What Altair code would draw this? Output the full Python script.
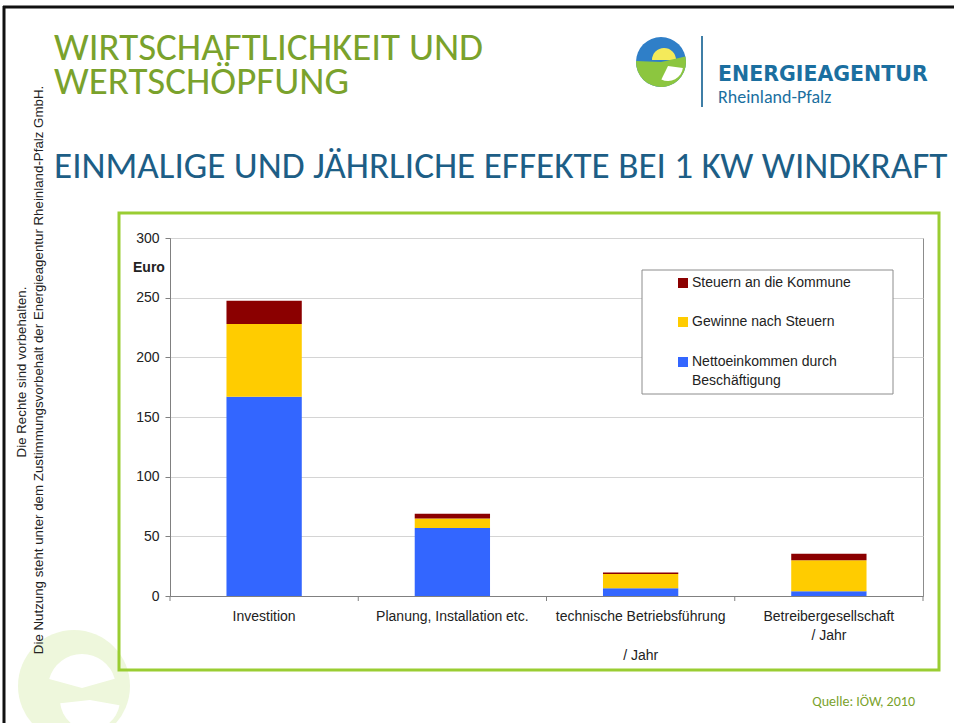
import altair as alt
import pandas as pd

# ---------------- data ----------------
categories = [
    "Investition",
    "Planung, Installation etc.",
    "technische Betriebsführung|\u200b|/ Jahr",
    "Betreibergesellschaft|/ Jahr",
]
series = ["Nettoeinkommen durch Beschäftigung", "Gewinne nach Steuern", "Steuern an die Kommune"]
netto = [167, 57, 6.5, 4]
gewinne = [61, 8, 12, 26]
steuern = [19.5, 4, 1.1, 5.5]
colors = ["#3366ff", "#ffcc00", "#8b0000"]
y_ticks = [0, 50, 100, 150, 200, 250, 300]

rows = []
for i, c in enumerate(categories):
    for k, (s, vals) in enumerate(zip(series, [netto, gewinne, steuern])):
        rows.append({"Kategorie": c, "Reihe": s, "Wert": vals[i], "ord": k})
df = pd.DataFrame(rows)

W, H = 753, 358
L, T = 170, 238  # plot origin on the page

ARIAL = "Liberation Sans"
CAL = "Carlito, Lato, Open Sans"

one = alt.Data(values=[{"a": 1}])

def px(x):
    return alt.value(x - L)

def py(y):
    return alt.value(y - T)

bars = alt.Chart(df).mark_bar(width=alt.RelativeBandSize(0.4)).encode(
    x=alt.X("Kategorie:N", sort=categories, scale=alt.Scale(paddingInner=0, paddingOuter=0),
            axis=alt.Axis(title=None, labelAngle=0, ticks=False, labelPadding=13,
                          labelExpr="split(datum.label, '|')", labelLineHeight=19.5,
                          labelFont=ARIAL, labelFontSize=14, labelColor="#222222",
                          labelLimit=400, labelOverlap=False, domainColor="#808080")),
    y=alt.Y("Wert:Q", stack="zero", scale=alt.Scale(domain=[0, 300], nice=False),
            axis=alt.Axis(title=None, values=y_ticks, grid=True, gridColor="#d4d4d4",
                          tickColor="#808080", tickSize=5, domainColor="#808080",
                          labelFont=ARIAL, labelFontSize=14, labelColor="#222222",
                          labelPadding=6)),
    color=alt.Color("Reihe:N", scale=alt.Scale(domain=series, range=colors), legend=None),
    order=alt.Order("ord:Q"),
)

# x tick marks at the band borders
xticks = alt.Chart(pd.DataFrame({"Kategorie": categories})).mark_rule(color="#808080").encode(
    x=alt.X("Kategorie:N", sort=categories, bandPosition=0),
    y=alt.value(H), y2=alt.value(H + 5),
)
xtick_end = alt.Chart(one).mark_rule(color="#808080").encode(
    x=alt.value(W), y=alt.value(H), y2=alt.value(H + 5))

euro = alt.Chart(one).mark_text(align="left", baseline="middle", font=ARIAL, fontSize=14,
                                fontWeight="bold", color="#222222").encode(
    x=px(133), y=py(268), text=alt.value("Euro"))

# legend
legend_box = alt.Chart(one).mark_rect(fill="white", stroke="#8c8c8c", strokeWidth=1).encode(
    x=px(642), x2=px(893), y=py(270), y2=py(394))
legend_layers = [legend_box]
leg_items = [
    (colors[2], ["Steuern an die Kommune"], 283),
    (colors[1], ["Gewinne nach Steuern"], 322),
    (colors[0], ["Nettoeinkommen durch", "Beschäftigung"], 362),
]
for col, lines, yy in leg_items:
    legend_layers.append(alt.Chart(one).mark_square(size=100, color=col, opacity=1).encode(
        x=px(683), y=py(yy)))
    for j, ln in enumerate(lines):
        legend_layers.append(alt.Chart(one).mark_text(align="left", baseline="middle", font=ARIAL,
                                                      fontSize=14, color="#222222").encode(
            x=px(692), y=py(yy + 19 * j), text=alt.value(ln)))

# slide decorations
deco = []
# faded logo bottom left
deco.append(alt.Chart(one).mark_arc(color="#eef7dc", theta=0, theta2=6.2832, outerRadius=56).encode(
    x=px(74), y=py(686)))
deco.append(alt.Chart(one).mark_arc(color="#ffffff", theta=4.98, theta2=7.58, outerRadius=34, innerRadius=0).encode(
    x=px(82), y=py(688)))
deco.append(alt.Chart(one).mark_arc(color="#ffffff", theta=1.75, theta2=4.6, outerRadius=30, innerRadius=0).encode(
    x=px(90), y=py(700)))
# green frame
deco.append(alt.Chart(one).mark_rect(fill=None, stroke="#9acd32", strokeWidth=3).encode(
    x=px(119), x2=px(939), y=py(213), y2=py(670)))
# black slide border
deco.append(alt.Chart(one).mark_rule(color="#111111", strokeWidth=3).encode(
    x=px(3), x2=px(954), y=py(7)))
deco.append(alt.Chart(one).mark_rule(color="#111111", strokeWidth=3).encode(
    x=px(4), y=py(6), y2=py(723)))
# vertical copyright text
deco.append(alt.Chart(one).mark_text(angle=270, align="center", baseline="middle", font=ARIAL,
                                     fontSize=13.3, color="#222222").encode(
    x=px(22), y=py(372), text=alt.value("Die Rechte sind vorbehalten.")))
deco.append(alt.Chart(one).mark_text(angle=270, align="center", baseline="middle", font=ARIAL,
                                     fontSize=13.3, color="#222222").encode(
    x=px(39), y=py(370),
    text=alt.value("Die Nutzung steht unter dem Zustimmungsvorbehalt der Energieagentur Rheinland-Pfalz GmbH.")))
# titles
for txt, yy in [("WIRTSCHAFTLICHKEIT UND", 60), ("WERTSCHÖPFUNG", 94)]:
    deco.append(alt.Chart(one).mark_text(align="left", baseline="alphabetic", font=CAL, fontSize=39,
                                         color="#7aa22c").encode(
        x=px(54), y=py(yy), text=alt.value(txt)))
deco.append(alt.Chart(one).mark_text(align="left", baseline="alphabetic", font=CAL, fontSize=37.2,
                                     color="#1d5e86").encode(
    x=px(54), y=py(178), text=alt.value("EINMALIGE UND JÄHRLICHE EFFEKTE BEI 1 KW WINDKRAFT")))
deco.append(alt.Chart(one).mark_text(align="right", baseline="alphabetic", font=CAL, fontSize=14,
                                     color="#7aa22c").encode(
    x=px(915), y=py(706), text=alt.value("Quelle: IÖW, 2010")))
# logo top right
deco.append(alt.Chart(one).mark_arc(color="#2f7fc8", theta=0, theta2=6.2832, outerRadius=25).encode(
    x=px(661), y=py(62)))
deco.append(alt.Chart(one).mark_arc(color="#f4ea5a", theta=4.71, theta2=7.85, outerRadius=12).encode(
    x=px(664), y=py(60)))
deco.append(alt.Chart(one).mark_arc(color="#8cc63f", theta=1.35, theta2=4.75, outerRadius=25).encode(
    x=px(661), y=py(62)))
deco.append(alt.Chart(one).mark_arc(color="#ffffff", theta=1.7, theta2=3.6, outerRadius=15, innerRadius=0).encode(
    x=px(668), y=py(66)))
deco.append(alt.Chart(one).mark_rule(color="#3f7ea6", strokeWidth=2).encode(
    x=px(702), y=py(36), y2=py(107)))
deco.append(alt.Chart(one).mark_text(align="left", baseline="alphabetic", font="DejaVu Sans", fontSize=20.5,
                                     fontWeight="bold", color="#1b6fa0").encode(
    x=px(718), y=py(81), text=alt.value("ENERGIEAGENTUR")))
deco.append(alt.Chart(one).mark_text(align="left", baseline="alphabetic", font=CAL, fontSize=18,
                                     color="#1b6fa0").encode(
    x=px(718), y=py(103), text=alt.value("Rheinland-Pfalz")))

chart = alt.layer(*deco, bars, xticks, xtick_end, euro, *legend_layers).properties(
    width=W, height=H,
    autosize=alt.AutoSizeParams(type="none"),
    padding={"left": L, "top": T, "right": 954 - L - W, "bottom": 723 - T - H},
    background="white",
).configure_view(stroke="#8c8c8c", strokeWidth=1)

chart.save("out.html", embed_options={"renderer": "svg", "actions": False})
